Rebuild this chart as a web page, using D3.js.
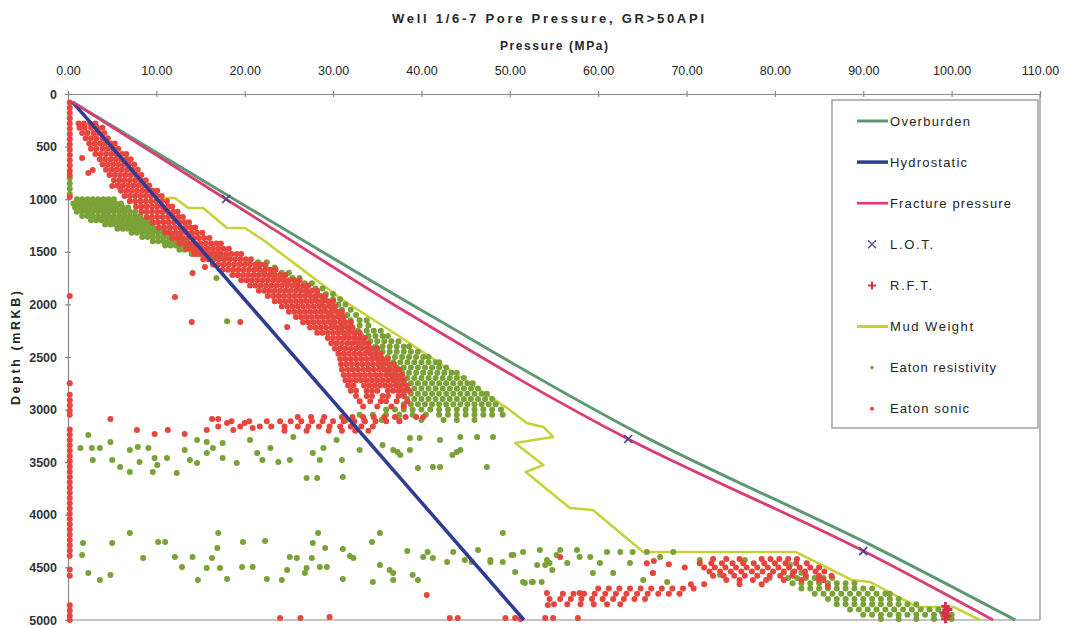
<!DOCTYPE html>
<html><head><meta charset="utf-8">
<script src="https://cdn.jsdelivr.net/npm/d3@7"></script>
<style>body{margin:0;background:#fff;} svg{display:block;font-family:"Liberation Sans",Arial,sans-serif;}</style>
</head><body><svg id="c" width="1066" height="628"></svg>
<script>
// ---------- ticks ----------
const pressureTicks = [0,10,20,30,40,50,60,70,80,90,100,110];
const depthTicks = [0,500,1000,1500,2000,2500,3000,3500,4000,4500,5000];

// ---------- legend ----------
const seriesNames = ["Overburden","Hydrostatic","Fracture pressure","L.O.T.","R.F.T.","Mud Weight","Eaton resistivity","Eaton sonic"];

// ---------- gradient lines (depth m, pressure MPa) ----------
const lineDepths = [75, 1000, 2080, 3280, 4335, 5000];
const overburden = [0.5, 18.8, 40.5, 65.8, 92.0, 107.2];
const fracture   = [0.5, 17.9, 38.4, 63.4, 89.8, 104.7];
const hydroDepths = [75, 5000];
const hydrostatic = [0.5, 51.6];
const mudDepths = [75, 800, 989, 989, 1084, 1084, 1274, 1274, 1388, 1958, 2310, 3004, 3127, 3165, 3260, 3317, 3527, 3593, 3935, 3954, 4354, 4354, 4620, 4639, 4876, 4876, 5000];
const mudWeight = [0.5, 8.0, 10.4, 12.1, 13.6, 15.3, 18.0, 20.0, 22.1, 31.1, 37.6, 50.0, 51.9, 53.8, 54.9, 50.6, 53.8, 51.8, 56.8, 59.4, 65.1, 82.4, 88.7, 90.8, 96.1, 100.2, 103.2];

// ---------- measured points [depth, pressure] ----------
const lotPoints = [[998,17.9],[3280,63.4],[4345,90.0]];
const rftPoints = [[4870,99.3],[4900,99.6],[4930,99.1],[4960,99.5],[4990,99.3]];

// ---------- Eaton sonic: rows [depth, pressures...] ----------
const sonicRows = [
[280,1.2,1.8,2.5,3.1],
[320,1.3,1.9,2.6,3.3,3.9],
[370,1.6,2.2,2.9,3.5,4.1],
[420,2.0,2.6,3.2,3.9,4.5],
[470,2.4,3.0,3.6,4.2,4.8,5.3],
[520,2.6,3.2,3.9,4.5,5.1,5.7],
[570,3.1,3.7,4.3,4.9,5.5,6.1,6.6],
[620,3.6,4.2,4.8,5.4,6.0,6.6,7.1],
[670,3.9,4.5,5.1,5.7,6.3,6.9,7.5],
[720,4.3,4.9,5.5,6.1,6.7,7.3,7.9],
[770,4.7,5.3,5.9,6.5,7.1,7.7,8.3],
[820,5.2,5.8,6.4,7.0,7.6,8.2,8.8],
[870,5.6,6.2,6.8,7.4,8.0,8.6,9.2],
[920,6.0,6.6,7.2,7.8,8.4,9.0,9.6,10.1],
[970,6.4,7.0,7.6,8.2,8.8,9.4,10.0,10.6],
[1020,7.0,7.6,8.2,8.8,9.4,10.0,10.6,11.2],
[1070,7.7,8.3,8.9,9.5,10.1,10.7,11.3,11.8],
[1120,8.3,8.9,9.5,10.1,10.7,11.3,11.9,12.4],
[1170,8.9,9.5,10.1,10.7,11.3,11.9,12.5,13.0],
[1220,9.6,10.2,10.8,11.4,12.0,12.6,13.2,13.7],
[1270,10.3,10.9,11.5,12.1,12.7,13.3,13.9,14.4],
[1320,11.0,11.6,12.2,12.8,13.4,14.0,14.6,15.2],
[1370,11.8,12.4,13.0,13.6,14.2,14.8,15.4,16.0],
[1420,12.6,13.2,13.8,14.4,15.0,15.6,16.2,16.8,17.3],
[1470,13.4,14.0,14.6,15.2,15.8,16.4,17.0,17.6,18.2],
[1520,14.3,14.9,15.5,16.1,16.7,17.3,17.9,18.5,19.1,19.6],
[1570,15.3,15.9,16.5,17.1,17.7,18.3,18.9,19.5,20.1,20.7],
[1620,16.4,17.0,17.6,18.2,18.8,19.4,20.0,20.6,21.2,21.8,22.3],
[1670,17.5,18.1,18.7,19.3,19.9,20.5,21.1,21.7,22.3,22.9,23.5],
[1720,18.6,19.2,19.8,20.4,21.0,21.6,22.2,22.8,23.4,24.0,24.6],
[1770,19.6,20.2,20.8,21.4,22.0,22.6,23.2,23.8,24.4,25.0,25.6,26.2],
[1820,20.6,21.2,21.8,22.4,23.0,23.6,24.2,24.8,25.4,26.0,26.6,27.2],
[1870,21.6,22.2,22.8,23.4,24.0,24.6,25.2,25.8,26.4,27.0,27.6,28.2],
[1920,22.6,23.2,23.8,24.4,25.0,25.6,26.2,26.8,27.4,28.0,28.6,29.1],
[1970,23.4,24.0,24.6,25.2,25.8,26.4,27.0,27.6,28.2,28.8,29.4,30.0],
[2020,24.2,24.8,25.4,26.0,26.6,27.2,27.8,28.4,29.0,29.6,30.2],
[2070,25.0,25.6,26.2,26.8,27.4,28.0,28.6,29.2,29.8,30.4,31.0],
[2120,25.8,26.4,27.0,27.6,28.2,28.8,29.4,30.0,30.6,31.2],
[2170,26.6,27.2,27.8,28.4,29.0,29.6,30.2,30.8,31.4,32.0],
[2220,27.4,28.0,28.6,29.2,29.8,30.4,31.0,31.6,32.2],
[2270,28.2,28.8,29.4,30.0,30.6,31.2,31.8,32.4,33.0],
[2320,29.4,30.0,30.6,31.2,31.8,32.4,33.0,33.6],
[2370,29.8,30.4,31.0,31.6,32.2,32.8,33.4,34.0],
[2420,30.2,30.8,31.4,32.0,32.6,33.2,33.8,34.4,35.0],
[2470,30.6,31.2,31.8,32.4,33.0,33.6,34.2,34.8,35.4],
[2520,30.8,31.4,32.0,32.6,33.2,33.8,34.4,35.0,35.6,36.2],
[2570,30.9,31.5,32.1,32.7,33.3,33.9,34.5,35.1,35.7,36.3,36.9],
[2620,31.0,31.6,32.2,32.8,33.4,34.0,34.6,35.2,35.8,36.4,37.0,37.5],
[2670,31.2,31.8,32.4,33.0,33.6,34.2,34.8,35.4,36.0,36.6,37.2,37.8],
[2720,31.4,32.0,32.6,33.2,33.8,34.4,35.0,35.6,36.2,36.8,37.4,38.0],
[2770,31.7,32.3,33.5,34.1,34.7,35.3,35.9,36.5,37.1,37.7,38.3],
[2820,32.0,32.6,33.8,34.4,35.0,36.2,36.8,37.4,38.0,38.6],
[2870,32.6,33.8,34.4,35.6,36.2,37.4,38.0],
[2920,33.0,34.2,35.4,36.0,37.2,38.4],
[2970,33.4,35.0,36.6,38.0],
[3070,26.0,27.5,29.0,31.0,32.2,33.4,34.6,35.8,37.0,38.2,39.4,40.2],
[3110,18.5,20.5,22.5,24.0,25.2,26.4,27.6,28.8,30.0,31.2,32.4,33.6,34.8,36.0,37.5],
[3160,17.0,19.5,21.7,23.0,24.5,26.0,27.2,28.4,29.6,30.8,32.0,33.2,34.5],
[3200,24.5,27.0,29.5,31.0,32.5,34.0],
[4420,73.0,74.5,76.0,78.5,79.5,80.5,81.5,82.5],
[4460,71.5,72.8,74.0,75.2,76.4,77.6,78.8,80.0,81.2,82.4,83.6],
[4500,72.0,73.2,74.4,75.6,76.8,78.0,79.2,80.4,81.6,82.8,84.0,85.0],
[4540,72.6,73.8,75.0,76.2,77.4,78.6,79.8,81.0,82.2,83.4,84.6,85.6],
[4580,73.0,74.2,75.4,76.6,78.0,79.4,80.6,82.0,83.5,85.0,86.4],
[4620,74.5,76.0,77.5,79.0,81.0,83.0,85.0],
[4660,70.5,72.0,76.0,78.5],
[4700,60.0,61.2,62.4,63.6,64.8,66.0,67.2,68.4,69.6,70.8],
[4750,56.0,57.2,58.4,59.6,60.8,62.0,63.2,64.4,65.6,66.8,68.0,69.2],
[4800,54.5,55.7,56.9,58.1,59.3,60.5,61.7,62.9,64.1,65.3],
[4850,55.0,56.5,58.0,59.5,61.0,62.5]
];
// Eaton sonic scattered points [depth, pressure]
const sonicSparse = [
[608,1.6],[751,2.3],[722,2.8],[875,5.0],[894,5.9],
[1702,14.1],[1645,15.5],[1930,12.1],[2167,14.0],[2167,19.5],[2215,24.8],
[3090,4.8],[3194,7.8],[3232,9.8],[3194,11.3],[3232,13.2],[3194,15.7],[3090,16.3],[3090,17.0],[3128,18.0],[3194,18.7],[3128,20.0],[3175,20.9],
[4763,40.6],[4744,54.2],[4858,54.3],[4744,57.9],
[4981,24.0],[4981,26.3],[4972,29.6],[4981,43.2],[4981,44.1],[4981,49.5],[4981,50.6],[4990,51.2],[4981,54.0],[4981,54.9],[4981,57.7],
[4402,55.7],[4440,66.3],[4470,68.0],[4500,69.8],[4460,65.5],[4554,66.2],[4620,85.5],[4680,86.0]
];
// Eaton sonic values sitting on the zero axis (depths)
const sonicZeroDepths = [80,130,180,230,280,330,380,430,480,530,580,630,680,730,770,980,1920,2750,2860,2910,2960,3010,3050,
3190,3240,3290,3340,3390,3440,3490,3540,3590,3640,3690,3740,3790,3840,3890,3940,3990,4040,4090,4140,4190,4240,4290,4340,4390,
4520,4580,4860,4910,4960,5000];
const sonicZeroValue = 0.2;

// ---------- Eaton resistivity ----------
const resRows = [
[1000,1.0,1.6,2.2,2.8,3.4,4.0,4.6,5.2],
[1040,0.6,1.2,1.8,2.4,3.0,3.6,4.2,4.8,5.4,6.0],
[1080,0.8,1.4,2.0,2.6,3.2,3.8,4.4,5.0,5.6,6.2,6.8],
[1120,1.0,1.6,2.2,2.8,3.4,4.0,4.6,5.2,5.8,6.4,7.0,7.6],
[1160,1.6,2.2,2.8,3.4,4.0,4.6,5.2,5.8,6.4,7.0,7.6,8.2],
[1200,2.6,3.2,3.8,4.4,5.0,5.6,6.2,6.8,7.4,8.0,8.6,9.2],
[1240,4.2,4.8,5.4,6.0,6.6,7.2,7.8,8.4,9.0,9.6],
[1280,5.6,6.2,6.8,7.4,8.0,8.6,9.2,9.8,10.4],
[1320,7.2,7.8,8.4,9.0,9.6,10.2,10.8,11.4],
[1360,8.4,9.0,9.6,10.2,10.8,11.4,12.0,12.6],
[1400,9.6,10.2,10.8,11.4,12.0,12.6,13.2],
[1440,11.0,11.6,12.2,12.8,13.4,14.0,14.6],
[1480,12.6,13.2,13.8,14.4,15.0,15.6],
[1520,14.0,14.6,15.2,15.8,16.4,17.0],
[1560,15.6,16.2,16.8,17.4,18.0],
[1600,20.5,21.5,22.5],
[1650,21.4,22.4,23.4],
[1700,22.2,23.2,24.2,25.0],
[1750,23.4,24.4,25.4,26.2],
[1800,24.8,25.8,26.8,27.6],
[1850,26.0,27.0,28.0,28.8],
[1900,27.2,28.2,29.2,30.0],
[1950,28.0,29.0,30.0,30.8],
[2000,28.6,29.6,30.6,31.4],
[2050,29.0,30.0,31.0,32.0],
[2100,29.6,30.6,31.6,32.6],
[2150,30.0,31.0,32.0,33.0,33.8],
[2200,30.0,31.0,32.0,33.0,34.0],
[2250,30.8,31.8,32.8,33.8,34.6,35.4],
[2300,31.6,32.4,33.2,34.0,34.8,35.6,36.2],
[2350,32.6,33.4,34.2,35.0,35.8,36.6,37.4],
[2400,33.2,34.0,34.8,35.6,36.4,37.2,38.0,38.6],
[2450,34.0,34.8,35.6,36.4,37.2,38.0,38.8,39.6],
[2500,34.6,35.4,36.2,37.0,37.8,38.6,39.4,40.2,40.8],
[2550,35.2,36.0,36.8,37.6,38.4,39.2,40.0,40.8,41.6,42.0],
[2600,35.6,36.4,37.2,38.0,38.8,39.6,40.4,41.2,42.0,42.8],
[2650,36.2,37.0,37.8,38.6,39.4,40.2,41.0,41.8,42.6,43.4,44.0],
[2700,36.8,37.6,38.4,39.2,40.0,40.8,41.6,42.4,43.2,44.0,44.8],
[2750,37.2,38.0,38.8,39.6,40.4,41.2,42.0,42.8,43.6,44.4,45.2,45.8],
[2800,37.6,38.4,39.2,40.0,40.8,41.6,42.4,43.2,44.0,44.8,45.6,46.4],
[2850,38.0,38.8,39.6,40.4,41.2,42.0,42.8,43.6,44.4,45.2,46.0,46.8,47.4],
[2900,38.4,39.2,40.0,40.8,41.6,42.4,43.2,44.0,44.8,45.6,46.4,47.2,48.0],
[2950,38.0,38.8,39.6,40.4,41.2,42.0,42.8,43.6,44.4,45.2,46.0,46.8,47.6,48.4],
[3000,36.0,37.0,38.0,39.0,40.0,41.0,42.0,43.0,44.0,45.0,46.0,47.0,48.0,49.0],
[3050,33.0,34.5,36.0,37.5,39.0,40.5,42.0,43.0,44.0,45.0,46.0,47.0,48.0,49.2],
[3100,31.5,33.5,35.5,37.5,40.0,42.5,44.0,46.0],
[4550,81.0,82.0,83.0],
[4600,81.5,82.5,83.5,84.5,85.5,86.5],
[4650,82.0,83.0,84.0,85.0,86.0,87.0,88.0,89.0],
[4700,83.0,84.0,85.0,86.0,87.0,88.0,89.0,90.0,91.0],
[4750,84.5,85.5,86.5,87.5,88.5,89.5,90.5,91.5,92.5,93.0],
[4800,86.0,87.0,88.0,89.0,90.0,91.0,92.0,93.0,94.0],
[4850,87.0,88.0,89.0,90.0,91.0,92.0,93.0,94.0,95.0,96.0],
[4900,88.5,89.5,90.5,91.5,92.5,93.5,94.5,95.5,96.5,97.5,98.5],
[4950,90.0,91.0,92.0,93.0,94.0,95.0,96.0,97.0,98.0,99.0,100.0],
[4990,92.0,94.0,96.0,98.0,100.0]
];
const resSparse = [
[3365,1.4],[3365,2.7],[3365,3.6],[3242,2.3],[3479,2.8],[3308,4.8],[3479,5.0],[3546,5.9],[3593,7.0],[3384,7.0],[3356,7.9],[3498,8.1],
[3365,9.1],[3460,9.8],[3527,10.1],[3593,9.6],[3460,11.2],[3603,12.3],[3384,13.2],[3479,13.8],[3289,14.6],[3508,14.6],[3413,15.7],
[3308,15.7],[3365,16.4],[3318,17.5],[3460,17.5],[3508,19.1],[3289,20.6],[3413,21.4],[3479,22.0],[3365,22.9],[3498,23.8],[3479,25.1],
[3261,25.5],[3650,27.0],[3413,27.7],[3650,28.2],[3479,28.5],[3365,28.9],[3289,30.4],[3479,31.0],[3641,31.1],[3384,33.0],[3384,36.8],
[3432,37.6],[3384,38.7],[3555,39.6],[3546,42.1],[3432,43.5],[3384,44.4],[3546,47.4],[3270,38.7],[3270,39.8],[3289,42.1],[3261,44.4],
[3261,46.3],[3261,48.1],[3337,35.6],[3403,37.3],[3546,41.3],[3403,44.0],[2160,18.0],[1750,16.8],
[4268,1.7],[4382,1.6],[4553,2.3],[4620,3.6],[4572,4.8],[4268,5.0],[4173,7.0],[4411,8.5],[4259,10.2],[4259,11.0],[4401,12.1],[4496,12.9],
[4401,14.1],[4620,14.7],[4506,15.7],[4411,16.3],[4316,16.9],[4173,17.0],[4506,17.2],[4610,18.0],[4496,19.7],[4259,19.8],[4496,20.9],
[4249,22.3],[4610,22.5],[4620,24.2],[4525,24.8],[4401,25.1],[4411,25.9],[4553,26.8],[4506,27.0],[4411,27.6],[4268,27.7],[4173,28.3],
[4496,28.5],[4316,29.1],[4496,29.3],[4610,31.1],[4325,31.1],[4392,31.9],[4411,32.3],[4259,34.4],[4639,34.5],[4477,35.3],[4173,35.3],
[4525,36.4],[4553,36.8],[4620,36.8],[4344,38.4],[4572,39.0],[4620,39.6],[4401,40.2],[4354,40.7],[4411,41.3],[4449,42.9],[4354,43.6],
[4430,44.9],[4449,45.7],[4335,46.4],[4449,47.8],[4173,49.2],[4449,49.2],[4382,50.2],[4544,50.6],[4354,51.5],[4648,51.7],[4639,52.5],
[4335,53.4],[4639,53.6],[4477,54.0],[4458,54.5],[4525,54.8],[4382,55.3],[4430,47.8],[4382,50.4],[4477,53.1],[4430,54.2],[4335,55.7],
[4458,56.5],[4335,57.6],[4401,57.9],[4401,59.1],[4553,59.4],[4458,60.2],[4354,61.0],[4553,61.7],[4354,62.5],[4458,63.6],[4354,63.9],
[4620,65.1],[4354,65.5],[4553,66.2],[4401,67.0],[4639,67.8],[4354,68.5],[4639,51.5],[4639,52.6],
[4430,71.5],[4572,73.8],[4430,76.6],[4601,79.4],[4477,81.7]
];
const resZeroDepths = [800,850,900,950];
const resZeroValue = 0.2;

// ---------- chart ----------
const svg = d3.select("#c");
const x = d3.scaleLinear().domain([0,110]).range([68,1040]);
const y = d3.scaleLinear().domain([0,5000]).range([94,620]);

const col = {
  over:"#5f9870", hydro:"#2f3c94", frac:"#dc3c74", lot:"#4b3f80", rft:"#d8304a",
  mud:"#c6d23c", res:"#7aa236", son:"#e8453f", axis:"#8a8a8a", text:"#262626"
};

// plot border (right & bottom)
svg.append("line").attr("x1",x(110)).attr("x2",x(110)).attr("y1",y(0)).attr("y2",y(5000)).attr("stroke",col.axis).attr("stroke-width",1.2);
svg.append("line").attr("x1",x(0)).attr("x2",x(110)).attr("y1",y(5000)).attr("y2",y(5000)).attr("stroke",col.axis).attr("stroke-width",1.2);

// axes
const gx = svg.append("g").attr("transform",`translate(0,${y(0)})`)
  .call(d3.axisTop(x).tickValues(pressureTicks).tickFormat(d3.format(".2f")).tickSize(3).tickPadding(16));
gx.selectAll(".tick line").attr("y1",3);
gx.selectAll("path,line").attr("stroke",col.axis).attr("stroke-width",1.2);
gx.selectAll("text").attr("font-size",12.5).attr("fill",col.text).attr("font-family","Liberation Sans, Arial, sans-serif");

const gy = svg.append("g").attr("transform",`translate(${x(0)},0)`)
  .call(d3.axisLeft(y).tickValues(depthTicks).tickFormat(d3.format("d")).tickSize(3).tickPadding(8));
gy.selectAll(".tick line").attr("x1",3);
gy.selectAll("path,line").attr("stroke",col.axis).attr("stroke-width",1.2);
gy.selectAll("text").attr("font-size",12.5).attr("font-weight","bold").attr("fill","#333").attr("font-family","Liberation Sans, Arial, sans-serif");

// titles
svg.append("text").attr("x",548).attr("y",23).attr("text-anchor","middle").attr("font-size",13).attr("font-weight","bold")
  .attr("fill",col.text).attr("textLength",312).attr("lengthAdjust","spacing").text("Well 1/6-7 Pore Pressure, GR>50API");
svg.append("text").attr("x",554).attr("y",50).attr("text-anchor","middle").attr("font-size",12).attr("font-weight","bold")
  .attr("fill",col.text).attr("textLength",108).attr("lengthAdjust","spacing").text("Pressure (MPa)");
svg.append("text").attr("transform","translate(20,348) rotate(-90)").attr("text-anchor","middle").attr("font-size",12.5).attr("font-weight","bold")
  .attr("fill",col.text).attr("textLength",114).attr("lengthAdjust","spacing").text("Depth (mRKB)");

// data tables
const rowsToPts = rows => rows.flatMap(r => r.slice(1).map(p => [r[0], p]));
const resPts = rowsToPts(resRows).concat(resSparse, resZeroDepths.map(d => [d, resZeroValue]));
const sonPts = rowsToPts(sonicRows).concat(sonicSparse, sonicZeroDepths.map(d => [d, sonicZeroValue]));

const lineGen = d3.line().x(d => x(d[1])).y(d => y(d[0])).curve(d3.curveMonotoneY);
const linLine = d3.line().x(d => x(d[1])).y(d => y(d[0]));

// mud weight (under the scatter)
svg.append("path").datum(mudDepths.map((d,i)=>[d, mudWeight[i]])).attr("d",linLine)
  .attr("fill","none").attr("stroke",col.mud).attr("stroke-width",2.6).attr("stroke-linejoin","round");

// scatter
svg.append("g").selectAll("circle").data(resPts).join("circle")
  .attr("cx",d=>x(d[1])).attr("cy",d=>y(d[0])).attr("r",3).attr("fill",col.res);
svg.append("g").selectAll("circle").data(sonPts).join("circle")
  .attr("cx",d=>x(d[1])).attr("cy",d=>y(d[0])).attr("r",3).attr("fill",col.son);

// gradient lines
svg.append("path").datum(lineDepths.map((d,i)=>[d, overburden[i]])).attr("d",lineGen)
  .attr("fill","none").attr("stroke",col.over).attr("stroke-width",3);
svg.append("path").datum(hydroDepths.map((d,i)=>[d, hydrostatic[i]])).attr("d",linLine)
  .attr("fill","none").attr("stroke",col.hydro).attr("stroke-width",3.5);
svg.append("path").datum(lineDepths.map((d,i)=>[d, fracture[i]])).attr("d",lineGen)
  .attr("fill","none").attr("stroke",col.frac).attr("stroke-width",2.8);

// LOT (thin x markers) and RFT (+ markers)
const xMark = "M-4,-4L4,4M-4,4L4,-4";
svg.append("g").selectAll("path").data(lotPoints).join("path")
  .attr("d",xMark).attr("transform",d=>`translate(${x(d[1])},${y(d[0])})`)
  .attr("stroke",col.lot).attr("stroke-width",1.6).attr("fill","none");
const cross = d3.symbol().type(d3.symbolCross).size(40);
svg.append("g").selectAll("path").data(rftPoints).join("path")
  .attr("d",cross).attr("transform",d=>`translate(${x(d[1])},${y(d[0])})`).attr("fill",col.rft);

// legend
const lg = svg.append("g");
lg.append("rect").attr("x",832).attr("y",100).attr("width",206).attr("height",328).attr("fill","#fff").attr("stroke",col.axis).attr("stroke-width",1.2);
const legendWidths = [80,77,121,43,42,83,106,79];
const legendY = i => 121 + i*41.1;
seriesNames.forEach((name,i)=>{
  const yy = legendY(i);
  if ([0,1,2,5].includes(i)) {
    const c = [col.over,col.hydro,col.frac,null,null,col.mud][i];
    const w = [3,3.5,2.6,0,0,3][i];
    lg.append("line").attr("x1",857).attr("x2",888).attr("y1",yy).attr("y2",yy).attr("stroke",c).attr("stroke-width",w);
  } else if (i===3) {
    lg.append("path").attr("d",xMark).attr("transform",`translate(872,${yy})`).attr("stroke","#5a5090").attr("stroke-width",1.4).attr("fill","none");
  } else if (i===4) {
    lg.append("path").attr("d","M-4,0L4,0M0,-4L0,4").attr("transform",`translate(872,${yy})`).attr("stroke",col.rft).attr("stroke-width",2);
  } else if (i===6) {
    lg.append("circle").attr("cx",872).attr("cy",yy).attr("r",1.8).attr("fill",col.res);
  } else {
    lg.append("circle").attr("cx",872).attr("cy",yy).attr("r",2).attr("fill",col.son);
  }
  lg.append("text").attr("x",890).attr("y",yy+4.5).attr("font-size",13).attr("fill",col.text)
    .attr("textLength",legendWidths[i]).attr("lengthAdjust","spacing").text(name);
});
</script>
</body></html>
